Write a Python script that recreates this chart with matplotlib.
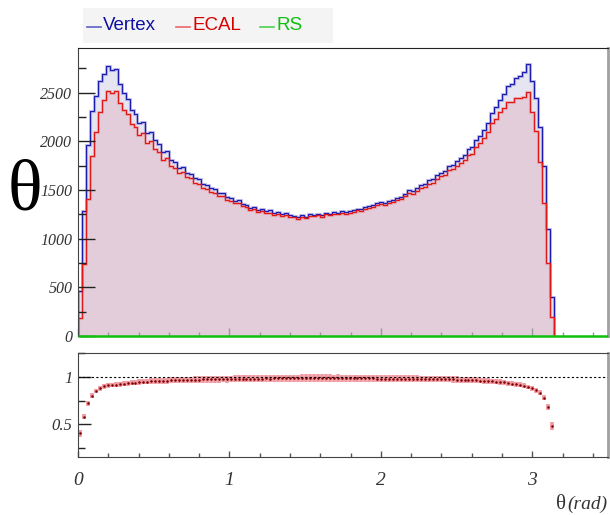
import numpy as np
import matplotlib
matplotlib.use("Agg")
import matplotlib.pyplot as plt
from matplotlib.pyplot import MultipleLocator
from matplotlib.lines import Line2D
from matplotlib.patches import Rectangle

# theta histograms, 120 bins over [0, pi]
nbins = 120
edges = np.linspace(0, np.pi, nbins + 1)

vertex = [
    460, 1280, 1960, 2310, 2470, 2620, 2690, 2770, 2730, 2740,
    2590, 2500, 2440, 2320, 2280, 2190, 2200, 2090, 2100, 2010,
    1970, 1890, 1900, 1810, 1790, 1730, 1740, 1680, 1670, 1620,
    1610, 1560, 1550, 1520, 1510, 1470, 1470, 1430, 1420, 1390,
    1400, 1360, 1350, 1320, 1330, 1300, 1310, 1280, 1290, 1260,
    1270, 1250, 1260, 1240, 1235, 1220, 1240, 1225, 1250, 1245,
    1255, 1240, 1265, 1255, 1275, 1265, 1280, 1270, 1285, 1290,
    1310, 1305, 1330, 1340, 1345, 1365, 1375, 1370, 1390, 1400,
    1420, 1430, 1460, 1500, 1490, 1520, 1550, 1560, 1600, 1610,
    1650, 1680, 1700, 1750, 1760, 1800, 1830, 1860, 1920, 1940,
    2010, 2060, 2120, 2190, 2290, 2350, 2430, 2490, 2570, 2590,
    2650, 2670, 2710, 2800, 2620, 2450, 2150, 1750, 1100, 400,
]

ecal = [
    184, 742, 1411, 1848, 2100, 2306, 2421, 2521, 2498, 2521,
    2396, 2325, 2281, 2181, 2143, 2070, 2090, 1986, 2006, 1920,
    1891, 1814, 1828, 1747, 1727, 1673, 1684, 1630, 1620, 1575,
    1565, 1519, 1511, 1482, 1474, 1436, 1438, 1399, 1390, 1362,
    1372, 1333, 1324, 1296, 1306, 1278, 1288, 1260, 1269, 1241,
    1251, 1231, 1242, 1223, 1218, 1203, 1224, 1209, 1234, 1229,
    1239, 1224, 1249, 1239, 1258, 1249, 1263, 1252, 1267, 1272,
    1292, 1285, 1310, 1320, 1325, 1343, 1353, 1348, 1366, 1376,
    1396, 1404, 1434, 1472, 1462, 1490, 1519, 1527, 1566, 1575,
    1612, 1641, 1659, 1706, 1714, 1751, 1779, 1804, 1859, 1874,
    1938, 1982, 2035, 2096, 2185, 2233, 2299, 2346, 2406, 2409,
    2449, 2446, 2455, 2506, 2306, 2107, 1785, 1365, 748, 192,
]

# RS histogram is empty over its whole range
rs_edges = [0, 0.5, 1.0, 1.5, 2.0, 2.5, 3.0, 3.5]
rs = [0, 0, 0, 0, 0, 0, 0]

vertex = np.array(vertex, dtype=float)
ecal = np.array(ecal, dtype=float)
centers = 0.5 * (edges[1:] + edges[:-1])
halfw = 0.5 * (edges[1] - edges[0])
ratio = ecal / vertex
ratio_err = ratio * np.sqrt(1 / ecal + 1 / vertex)

serif = "Liberation Serif"
W, H = 610, 515
fig = plt.figure(figsize=(6.1, 5.15), dpi=100)

ax1 = fig.add_axes([78 / W, 1 - 336 / H, 530 / W, 288 / H])
ax2 = fig.add_axes([78 / W, 1 - 457 / H, 530 / W, 104 / H])

#### top pad: distributions
ax1.stairs(vertex, edges, fill=True, color="#e6e6f2", lw=0)
ax1.stairs(ecal, edges, fill=True, color="#e3cddb", lw=0)
ax1.stairs(vertex, edges, color="#8a8ad6", lw=2.2, alpha=0.45)
ax1.stairs(ecal, edges, color="#f08a8a", lw=2.2, alpha=0.45)
ax1.stairs(vertex, edges, color="#1c1cb0", lw=0.9)
ax1.stairs(ecal, edges, color="#e01818", lw=0.9)
ax1.stairs(rs, rs_edges, color="#10c010", lw=1.8, baseline=None, zorder=5, clip_on=False)

ax1.set_xlim(0, 3.5)
ax1.set_ylim(0, 2960)
ax1.yaxis.set_major_locator(MultipleLocator(500))
ax1.yaxis.set_minor_locator(MultipleLocator(250))
ax1.xaxis.set_major_locator(MultipleLocator(1))
ax1.xaxis.set_minor_locator(MultipleLocator(0.2))
ax1.tick_params(axis="y", which="major", direction="in", length=12, width=1, color="#222222", pad=4)
ax1.tick_params(axis="y", which="minor", direction="in", length=6, width=1, color="#222222")
ax1.tick_params(axis="x", which="major", direction="in", length=6, width=1, color="#999999", labelbottom=False)
ax1.tick_params(axis="x", which="minor", direction="in", length=3, width=1, color="#999999")
for lab in ax1.get_yticklabels():
    lab.set_fontfamily(serif)
    lab.set_fontstyle("italic")
    lab.set_fontsize(11.5)
    lab.set_color("#333333")
ax1.spines["left"].set_color("#444444")
ax1.spines["top"].set_color("#222222")
ax1.spines["right"].set_color("#a0a0a0")
ax1.spines["right"].set_linewidth(2)
ax1.spines["bottom"].set_visible(False)

#### bottom pad: ECAL / Vertex
ax2.errorbar(centers, ratio, xerr=halfw, yerr=ratio_err, fmt="none", ecolor="#f09aa2",
             elinewidth=2.6)
ax2.plot(centers, ratio, ".", color="#7a0000", ms=1.6)
ax2.axhline(1, color="black", lw=0.8, ls=(0, (2, 2)))

ax2.set_xlim(0, 3.5)
ax2.set_ylim(0.15, 1.255)
ax2.yaxis.set_major_locator(MultipleLocator(0.5))
ax2.yaxis.set_minor_locator(MultipleLocator(0.25))
ax2.yaxis.set_major_formatter(plt.FuncFormatter(lambda v, p: "%g" % v))
ax2.xaxis.set_major_locator(MultipleLocator(1))
ax2.xaxis.set_minor_locator(MultipleLocator(0.2))
ax2.xaxis.set_major_formatter(plt.FuncFormatter(lambda v, p: "%g" % v))
ax2.tick_params(axis="y", which="major", direction="in", length=9, width=1, color="#222222", pad=4)
ax2.tick_params(axis="y", which="minor", direction="in", length=5, width=1, color="#222222")
ax2.tick_params(axis="x", which="major", direction="in", length=4, width=1, color="#555555", pad=11)
ax2.tick_params(axis="x", which="minor", direction="in", length=3, width=1, color="#555555")
for lab in ax2.get_yticklabels() + ax2.get_xticklabels():
    lab.set_fontfamily(serif)
    lab.set_fontstyle("italic")
    lab.set_color("#333333")
for lab in ax2.get_yticklabels():
    lab.set_fontsize(12)
for lab in ax2.get_xticklabels():
    lab.set_fontsize(14)
for s in ["left", "top", "bottom"]:
    ax2.spines[s].set_color("#444444")
ax2.spines["right"].set_color("#a0a0a0")
ax2.spines["right"].set_linewidth(2)

# axis titles
fig.text(25 / W, 1 - 192 / H, "θ", fontsize=52, family=serif, ha="center", va="center")
fig.text(607 / W, 1 - 509 / H, "(rad)", fontsize=14, family=serif, style="italic",
         ha="right", va="baseline", color="#333333")
fig.text(566 / W, 1 - 509 / H, "θ", fontsize=15, family=serif,
         ha="right", va="baseline", color="#333333")

# legend
fig.add_artist(Rectangle((83 / W, 1 - 43 / H), 250 / W, 35 / H, transform=fig.transFigure,
                         facecolor="#f4f4f4", edgecolor="none"))
entries = [("Vertex", 87, "#6060c8", "#1010a0"),
           ("ECAL", 176, "#ee6666", "#d80000"),
           ("RS", 260, "#50d050", "#10c010")]
for name, x0, lc, tc in entries:
    fig.add_artist(Line2D([x0 / W, (x0 + 14) / W], [1 - 27 / H, 1 - 27 / H],
                          transform=fig.transFigure, color=lc, lw=1.2))
    fig.text((x0 + 16) / W, 1 - 26 / H, name, fontsize=13.5, family="Liberation Sans",
             color=tc, ha="left", va="center")

fig.savefig("out.png", dpi=100)
